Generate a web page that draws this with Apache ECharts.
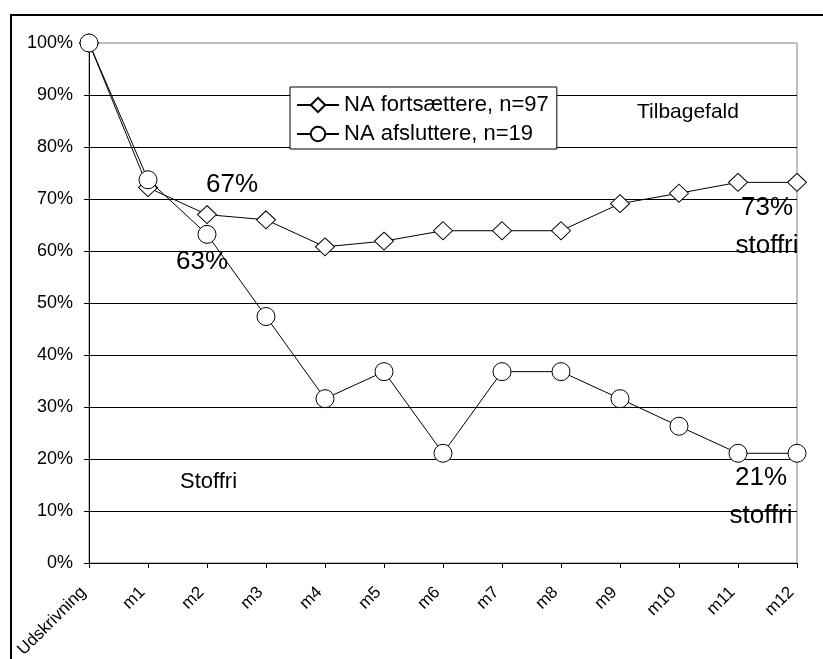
<!DOCTYPE html>
<html>
<head>
<meta charset="utf-8">
<script src="https://cdn.jsdelivr.net/npm/echarts@6/dist/echarts.min.js"></script>
<style>
  html, body { margin: 0; padding: 0; background: #fff; }
  #chart { width: 823px; height: 659px; }
</style>
</head>
<body>
<div id="chart"></div>
<script>
// Andel stoffri efter udskrivning, måned for måned
const categories = ['Udskrivning', 'm1', 'm2', 'm3', 'm4', 'm5', 'm6', 'm7', 'm8', 'm9', 'm10', 'm11', 'm12'];
const fortsaettere = [100, 72.2, 67.0, 66.0, 60.8, 61.9, 63.9, 63.9, 63.9, 69.1, 71.1, 73.2, 73.2];
const afsluttere = [100, 73.7, 63.2, 47.4, 31.6, 36.8, 21.1, 36.8, 36.8, 31.6, 26.3, 21.1, 21.1];
const seriesNames = ['NA fortsættere, n=97', 'NA afsluttere, n=19'];
const yMin = 0, yMax = 100, yStep = 10;

const FONT = '"Liberation Sans", Arial, sans-serif';

function bigLabel(offset, withSuffix) {
  return {
    show: true,
    position: 'inside',
    offset: offset,
    fontFamily: FONT,
    fontSize: 26,
    lineHeight: 38,
    color: '#000',
    align: 'center',
    verticalAlign: 'middle',
    formatter: p => Math.round(p.value) + '%' + (withSuffix ? '\nstoffri' : '')
  };
}

// per-point labels for the highlighted values
const labelsFort = { 2: bigLabel([25, -30], false), 12: bigLabel([-30, 44], true) };
const labelsAfsl = { 2: bigLabel([-5, 27], false), 12: bigLabel([-36, 44], true) };

function withLabels(values, labels) {
  return values.map((v, i) => labels[i] ? { value: v, label: labels[i] } : v);
}

const chart = echarts.init(document.getElementById('chart'), null, { renderer: 'canvas' });

chart.setOption({
  animation: false,
  backgroundColor: '#fff',
  textStyle: { fontFamily: FONT },
  grid: {
    left: 89, right: 26, top: 43, bottom: 96,
    outerBoundsMode: 'none',
    containLabel: false,
    show: true, borderColor: '#808080', borderWidth: 1, backgroundColor: 'transparent'
  },
  legend: {
    orient: 'vertical',
    left: 290, top: 87,
    padding: [7, 8, 4, 6],
    itemGap: 7,
    itemWidth: 42, itemHeight: 18,
    backgroundColor: '#fff',
    borderColor: '#000', borderWidth: 1,
    textStyle: { fontFamily: FONT, fontSize: 22, color: '#000' },
    data: seriesNames
  },
  xAxis: {
    type: 'category',
    data: categories,
    boundaryGap: false,
    axisLine: { lineStyle: { color: '#000', width: 1 } },
    axisTick: { show: true, length: 5, inside: false, lineStyle: { color: '#000' } },
    axisLabel: {
      rotate: 45, margin: 21, interval: 0,
      padding: [0, 8, 0, 0],
      fontFamily: FONT, fontSize: 17, color: '#000'
    },
    splitLine: { show: false }
  },
  yAxis: {
    type: 'value',
    min: yMin, max: yMax, interval: yStep,
    axisLine: { show: true, lineStyle: { color: '#000', width: 1 } },
    axisTick: { show: true, length: 5, inside: false, lineStyle: { color: '#000' } },
    axisLabel: {
      formatter: '{value}%', margin: 16,
      fontFamily: FONT, fontSize: 18, color: '#000'
    },
    splitLine: { show: true, showMinLine: false, showMaxLine: false, lineStyle: { color: '#000', width: 1 } }
  },
  series: [
    {
      name: seriesNames[0],
      type: 'line',
      data: withLabels(fortsaettere, labelsFort),
      symbol: 'diamond',
      symbolSize: [19, 18],
      showAllSymbol: true,
      lineStyle: { color: '#000', width: 1 },
      itemStyle: { color: '#fff', borderColor: '#000', borderWidth: 1 },
      z: 3
    },
    {
      name: seriesNames[1],
      type: 'line',
      data: withLabels(afsluttere, labelsAfsl),
      symbol: 'circle',
      symbolSize: 18,
      showAllSymbol: true,
      lineStyle: { color: '#000', width: 1 },
      itemStyle: { color: '#fff', borderColor: '#000', borderWidth: 1 },
      z: 4
    }
  ],
  graphic: [
    {
      type: 'rect',
      shape: { x: 11, y: 15, width: 860, height: 700 },
      style: { fill: null, stroke: '#000', lineWidth: 2 },
      silent: true, z: 100
    },
    {
      type: 'text', left: 180, top: 471,
      style: { text: 'Stoffri', font: '22px ' + FONT, fill: '#000' }
    },
    {
      type: 'text', left: 637, top: 102,
      style: { text: 'Tilbagefald', font: '21px ' + FONT, fill: '#000' }
    }
  ]
});
</script>
</body>
</html>
